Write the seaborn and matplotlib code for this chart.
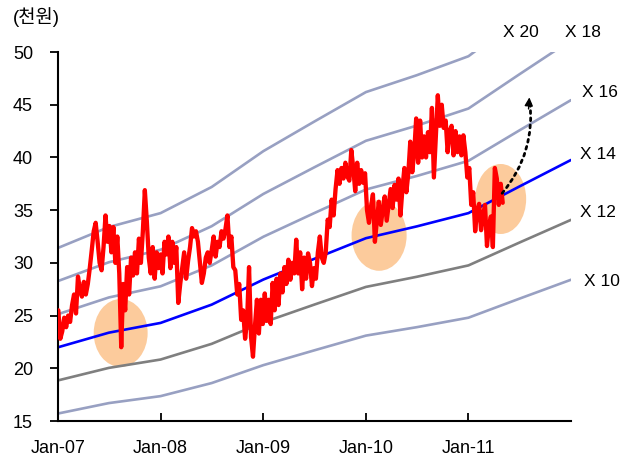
import numpy as np
import pandas as pd
import matplotlib
matplotlib.use("Agg")
import matplotlib.pyplot as plt
import matplotlib.dates as mdates
from matplotlib.patches import Ellipse
import seaborn as sns

# ---------------- data ----------------
price_start = "2007-01-02"
price_values = [
    25.5, 22.8, 23.5, 24.8, 23.9, 25.0, 24.4, 26.0, 27.0, 25.2,
    28.7, 27.5, 26.8, 28.2, 27.0, 28.0, 29.5, 31.2, 33.0, 33.8,
    32.0, 30.0, 29.3, 31.5, 34.5, 32.0, 33.5, 31.0, 33.4, 30.0,
    32.5, 29.0, 22.0, 28.0, 25.5, 29.6, 27.0, 30.5, 28.8, 31.0,
    29.0, 32.3, 30.0, 33.0, 36.9, 34.0, 30.5, 29.0, 31.5, 28.5,
    31.0, 29.5, 30.8, 29.0, 32.0, 30.8, 32.5, 29.5, 32.0, 30.0,
    31.5, 26.2, 28.0, 29.5, 31.0, 28.5, 30.2, 31.5, 33.3, 32.5,
    33.0, 32.0, 30.0, 28.1, 29.0, 30.5, 31.0, 30.0, 31.2, 32.5,
    30.6, 32.0, 31.5, 33.0, 32.3, 33.2, 34.5, 31.5, 32.5, 29.6,
    29.3, 27.0, 28.0, 24.6, 25.5, 22.8, 24.5, 29.6, 23.0, 21.1,
    24.0, 26.5, 23.3, 26.5, 24.2, 27.1, 24.5, 26.5, 24.2, 28.1,
    25.5, 28.5, 26.0, 29.0, 27.2, 29.6, 28.0, 30.3, 28.4, 30.0,
    29.0, 32.2, 29.0, 31.0, 27.5, 30.5, 28.5, 30.9, 30.0, 27.8,
    29.5, 28.5, 31.0, 32.5, 30.5, 30.0, 31.0, 34.1, 33.4, 36.0,
    34.5, 37.0, 38.8, 37.5, 39.0, 38.0, 39.5, 38.2, 37.8, 40.7,
    39.0, 36.8, 39.5, 37.5, 38.8, 37.6, 38.5, 35.0, 33.8, 35.3,
    36.5, 32.0, 34.0, 35.8, 33.6, 35.0, 36.3, 34.0, 35.5, 37.0,
    35.2, 37.4, 36.0, 38.0, 34.5, 37.0, 39.0, 36.7, 38.5, 41.5,
    38.6, 40.5, 43.7, 39.5, 43.5, 40.0, 42.0, 40.0, 42.4, 40.5,
    44.7, 38.1, 42.0, 45.9, 43.0, 45.0, 42.8, 43.5, 40.5, 42.5,
    43.0, 40.2, 42.5, 40.5, 42.0, 40.2, 42.1, 40.5, 38.1, 39.0,
    35.5, 36.7, 33.0, 35.0, 35.6, 33.1, 34.5, 35.5, 31.6, 33.5,
    34.4, 31.5, 39.0, 38.0, 35.5, 37.5, 35.7,
]

eps_dates = ["2007-01-01", "2007-07-01", "2008-01-01", "2008-07-01",
             "2009-01-01", "2009-07-01", "2010-01-01", "2010-07-01",
             "2011-01-01", "2011-07-01", "2012-01-01"]
eps_values = [1.571, 1.67, 1.736, 1.86, 2.03, 2.17, 2.31, 2.39, 2.48, 2.66, 2.84]

multiples = [10, 12, 14, 16, 18, 20]
band_labels = ["X 10", "X 12", "X 14", "X 16", "X 18", "X 20"]

x_tick_labels = ["Jan-07", "Jan-08", "Jan-09", "Jan-10", "Jan-11"]
y_ticks = [15, 20, 25, 30, 35, 40, 45, 50]

# highlighted zones (center date, center value)
circle_dates = ["2007-08-12", "2010-02-17", "2011-04-26"]
circle_values = [23.35, 32.6, 36.06]

# ---------------- styling ----------------
sns.set_style("white")
plt.rcParams["font.family"] = ["Liberation Sans", "Noto Sans CJK KR"]

band_colors = {10: "#98A0C2", 12: "#7F7F7F", 14: "#0000FF",
               16: "#98A0C2", 18: "#98A0C2", 20: "#98A0C2"}

fig = plt.figure(figsize=(6.24, 4.65), dpi=100)
ax = fig.add_axes([0.093, 0.0946, 0.822, 0.7935])

price_df = pd.DataFrame({
    "date": pd.date_range(price_start, periods=len(price_values), freq="7D"),
    "price": price_values,
})

eps_df = pd.DataFrame({"date": pd.to_datetime(eps_dates), "eps": eps_values})
band_df = pd.concat(
    [pd.DataFrame({"date": eps_df["date"], "value": eps_df["eps"] * m, "mult": m})
     for m in multiples],
    ignore_index=True,
)

# circles (behind everything)
w_days = [192, 196, 181]
h_vals = [6.45, 6.7, 6.64]
for d, v, w, h in zip(circle_dates, circle_values, w_days, h_vals):
    e = Ellipse((mdates.date2num(pd.Timestamp(d)), v), width=w, height=h,
                facecolor="#FCCB9C", edgecolor="none", zorder=1)
    ax.add_patch(e)

for m in multiples:
    sub = band_df[band_df["mult"] == m]
    sns.lineplot(data=sub, x="date", y="value", ax=ax, color=band_colors[m],
                 linewidth=1.9, zorder=2, legend=False)

sns.lineplot(data=price_df, x="date", y="price", ax=ax, color="#FF0000",
             linewidth=3.1, zorder=3, legend=False)

# dotted arrow
start = (mdates.date2num(pd.Timestamp("2011-05-01")), 36.6)
end = (mdates.date2num(pd.Timestamp("2011-08-06")), 45.7)
ax.annotate("", xy=end, xytext=start,
            arrowprops=dict(arrowstyle="-", color="black", lw=2.0,
                            linestyle=(0, (1, 1.6)),
                            connectionstyle="arc3,rad=0.22",
                            shrinkA=0, shrinkB=2),
            zorder=5, annotation_clip=False)
ax.annotate("", xy=end,
            xytext=(mdates.date2num(pd.Timestamp("2011-08-03")), 44.6),
            arrowprops=dict(arrowstyle="-|>,head_length=0.5,head_width=0.25",
                            color="black", lw=1.0, shrinkA=0, shrinkB=0),
            zorder=5)

# axes
ax.set_xlim(pd.Timestamp("2007-01-01"), pd.Timestamp("2012-01-01"))
ax.set_ylim(15, 50)
ax.set_xticks(pd.to_datetime(["2007-01-01", "2008-01-01", "2009-01-01",
                              "2010-01-01", "2011-01-01"]))
ax.set_xticklabels(x_tick_labels)
ax.set_yticks(y_ticks)
ax.set_yticklabels([str(t) for t in y_ticks])
ax.set_xlabel("")
ax.set_ylabel("")

for s in ["top", "right"]:
    ax.spines[s].set_visible(False)
for s in ["left", "bottom"]:
    ax.spines[s].set_color("black")
    ax.spines[s].set_linewidth(1.5)

ax.tick_params(axis="x", direction="in", length=6, width=1.3, pad=14,
               labelsize=13, colors="black", bottom=True)
ax.tick_params(axis="y", direction="out", length=6, width=1.3, pad=12,
               labelsize=13, colors="black", left=True)

# band labels
label_pos = {
    "X 20": (0.867, 1.054), "X 18": (0.988, 1.054),
    "X 16": (1.021, 0.889), "X 14": (1.018, 0.721),
    "X 12": (1.018, 0.564), "X 10": (1.026, 0.377),
}
for lab in band_labels:
    x, y = label_pos[lab]
    ax.text(x, y, lab, transform=ax.transAxes, fontsize=12.5, ha="left",
            va="center", color="black", clip_on=False)

fig.text(0.021, 0.963, "(천원)", fontsize=13.5, ha="left", va="center",
         color="black")

fig.savefig("out.png", dpi=100)
